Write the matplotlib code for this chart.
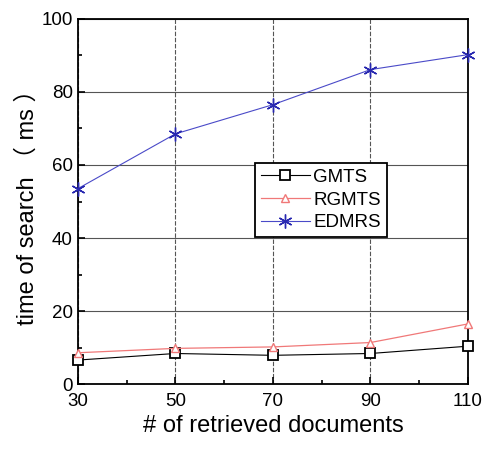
import matplotlib
matplotlib.use("Agg")
import matplotlib.pyplot as plt
from matplotlib.ticker import MultipleLocator, FixedLocator

plt.rcParams['font.family'] = ['Liberation Sans', 'Noto Sans CJK SC', 'DejaVu Sans']

# data
docs = [30, 50, 70, 90, 110]
gmts = [6.6, 8.4, 7.9, 8.4, 10.4]
rgmts = [8.6, 9.8, 10.2, 11.4, 16.5]
edmrs = [53.5, 68.5, 76.5, 86.1, 90.2]

fig = plt.figure(figsize=(4.83, 4.59), dpi=100)
ax = fig.add_axes([0.161, 0.163, 0.808, 0.796])

ax.plot(docs, gmts, color='black', lw=0.8, marker='s', ms=7, mfc='white', mec='black', mew=1.3,
        label='GMTS', zorder=3, clip_on=False)
ax.plot(docs, rgmts, color='#f07878', lw=0.9, marker='^', ms=6, mfc='white', mec='#f07878', mew=1.0,
        label='RGMTS', zorder=3, clip_on=False)
ax.plot(docs, edmrs, color='#4a4ac8', lw=0.8, marker=(6, 2, 0), ms=10, mec='#2828b0', mew=1.0,
        label='EDMRS', zorder=3, clip_on=False)

ax.set_xlim(30, 110)
ax.set_ylim(0, 100)
ax.xaxis.set_major_locator(FixedLocator(docs))
ax.xaxis.set_minor_locator(FixedLocator([40, 60, 80, 100]))
ax.yaxis.set_major_locator(MultipleLocator(20))
ax.yaxis.set_minor_locator(MultipleLocator(10))
ax.tick_params(which='both', direction='in', width=1.2, labelsize=13.5)
ax.tick_params(which='major', length=5)
ax.tick_params(which='minor', length=3)
ax.tick_params(axis='x', pad=6)

ax.grid(axis='y', color='#555555', lw=0.8, ls='-')
ax.grid(axis='x', color='#555555', lw=0.8, ls=(0, (4, 1.5)))
for s in ax.spines.values():
    s.set_linewidth(1.3)

ax.set_xlabel('# of retrieved documents', fontsize=17, labelpad=4)
ax.set_ylabel('time of search （ ms ）', fontsize=17, labelpad=2)

leg = ax.legend(loc='upper left', bbox_to_anchor=(0.455, 0.605), fontsize=13.5,
                frameon=True, fancybox=False, edgecolor='black', framealpha=1,
                handlelength=2.6, handletextpad=0.2, borderpad=0.3, labelspacing=0.3,
                borderaxespad=0)
leg.get_frame().set_linewidth(1.3)

fig.savefig('out.png', dpi=100)
